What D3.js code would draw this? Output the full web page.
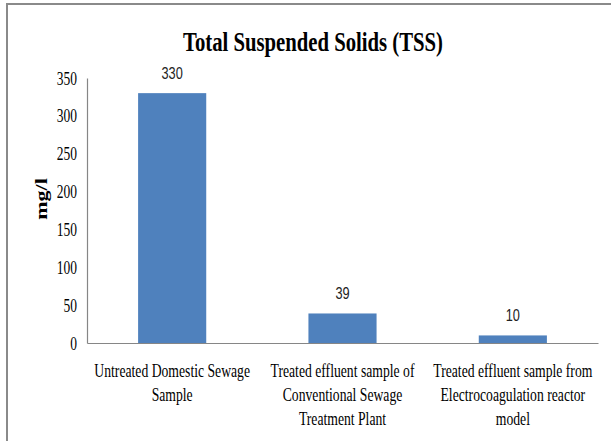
<!DOCTYPE html>
<html>
<head>
<meta charset="utf-8">
<script src="https://cdn.jsdelivr.net/npm/d3@7"></script>
<style>
  body { margin: 0; background: #fff; }
  svg { display: block; }
</style>
</head>
<body>
<div id="chart"></div>
<script>
var svgWidth = 611;
var svgHeight = 441;

// Chart data
var categories = [
  ["Untreated Domestic Sewage", "Sample"],
  ["Treated effluent sample of", "Conventional Sewage", "Treatment Plant"],
  ["Treated effluent sample from", "Electrocoagulation reactor", "model"]
];
var tssValues = [330, 39, 10];
var yTicks = [0, 50, 100, 150, 200, 250, 300, 350];

var plot = { left: 87, right: 598, top: 78, bottom: 343 };
var squeeze = 0.72; // the picture is narrowed horizontally
var serif = "'Liberation Serif', 'Times New Roman', 'DejaVu Serif', serif";

var svg = d3.select("#chart")
  .append("svg")
  .attr("width", svgWidth)
  .attr("height", svgHeight);

svg.append("rect")
  .attr("width", svgWidth)
  .attr("height", svgHeight)
  .attr("fill", "#fff");

// frame of the figure
svg.append("path")
  .attr("d", "M7,441 V4 H611")
  .attr("fill", "none")
  .attr("stroke", "#8a8a8a")
  .attr("stroke-width", 2);

var keys = categories.map(function(c, i) { return "c" + i; });

var x = d3.scaleBand()
  .domain(keys)
  .range([plot.left, plot.right])
  .paddingInner(0.6)
  .paddingOuter(0.3);

var y = d3.scaleLinear()
  .domain([0, 350])
  .range([plot.bottom, plot.top]);

// helper: text squeezed horizontally around its anchor
function squeezed(sel, px, py) {
  return sel.attr("transform", "translate(" + px + "," + py + ") scale(" + squeeze + ",1)");
}

// Title
svg.append("text")
  .attr("x", 313)
  .attr("y", 51)
  .attr("text-anchor", "middle")
  .attr("font-family", serif)
  .attr("font-weight", "bold")
  .attr("font-size", "27px")
  .attr("textLength", 260)
  .attr("lengthAdjust", "spacingAndGlyphs")
  .attr("fill", "#000")
  .text("Total Suspended  Solids (TSS)");

// Y axis
var yAxis = d3.axisLeft(y).tickValues(yTicks).tickSize(0).tickPadding(0);
var gy = svg.append("g")
  .attr("transform", "translate(" + plot.left + ",0)")
  .call(yAxis);
gy.select(".domain").attr("stroke", "#868686").attr("stroke-width", 1.2);
gy.selectAll(".tick text")
  .attr("x", null).attr("dy", null)
  .attr("font-family", serif)
  .attr("font-size", "18px")
  .attr("fill", "#000")
  .attr("text-anchor", "end")
  .attr("transform", "translate(-10,6) scale(0.75,1)");

// Y axis title
svg.append("text")
  .attr("transform", "translate(47,199) rotate(-90) scale(1,0.8)")
  .attr("text-anchor", "middle")
  .attr("font-family", serif)
  .attr("font-weight", "bold")
  .attr("font-size", "22px")
  .attr("fill", "#000")
  .text("mg/l");

// Bars
svg.selectAll(".bar")
  .data(tssValues)
  .enter()
  .append("rect")
  .attr("class", "bar")
  .attr("x", function(d, i) { return x(keys[i]); })
  .attr("y", function(d) { return y(d); })
  .attr("width", x.bandwidth())
  .attr("height", function(d) { return y(0) - y(d); })
  .attr("fill", "#4F81BD");

// Value labels
svg.selectAll(".value")
  .data(tssValues)
  .enter()
  .append("text")
  .attr("class", "value")
  .attr("transform", function(d, i) {
    return "translate(" + (x(keys[i]) + x.bandwidth() / 2) + "," + (y(d) - 14) + ") scale(0.75,1)";
  })
  .attr("text-anchor", "middle")
  .attr("font-family", "'Liberation Sans', Arial, sans-serif")
  .attr("font-size", "17px")
  .attr("fill", "#222")
  .text(function(d) { return d; });

// X axis
var xAxis = d3.axisBottom(x).tickSize(0).tickFormat("");
var gx = svg.append("g")
  .attr("transform", "translate(0," + plot.bottom + ")")
  .call(xAxis);
gx.select(".domain").attr("stroke", "#868686").attr("stroke-width", 1.2);

// Category labels
categories.forEach(function(lines, i) {
  var cx = x(keys[i]) + x.bandwidth() / 2;
  lines.forEach(function(line, j) {
    squeezed(svg.append("text"), cx, 377 + j * 24)
      .attr("text-anchor", "middle")
      .attr("font-family", serif)
      .attr("font-size", "19px")
      .attr("fill", "#000")
      .text(line);
  });
});
</script>
</body>
</html>
